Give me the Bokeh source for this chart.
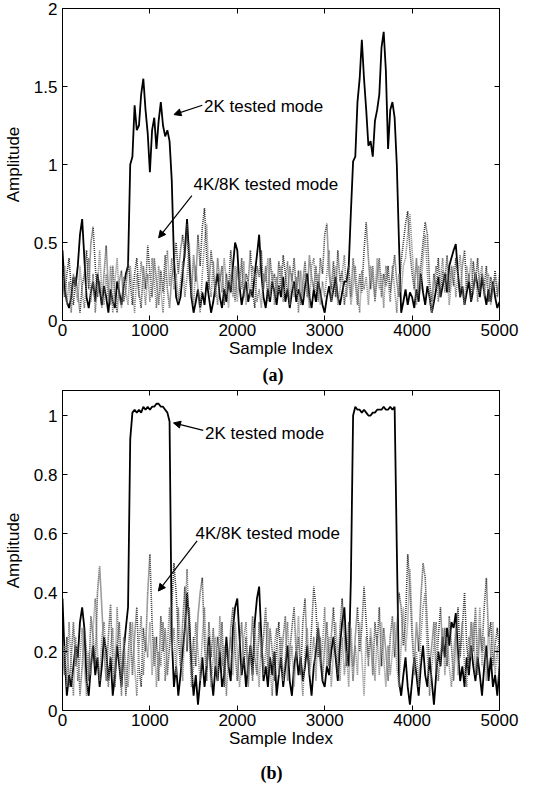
from bokeh.plotting import figure
from bokeh.models import Range1d, LinearAxis, FixedTicker, Arrow, NormalHead, Label, Title
from bokeh.layouts import column
from bokeh.embed import file_html
from bokeh.resources import INLINE

# ---------------- data ----------------
SAMPLE_IDX = list(range(0, 5001, 25))

X_TICKS = [0, 1000, 2000, 3000, 4000, 5000]
X_TICK_LABELS = ["0", "1000", "2000", "3000", "4000", "5000"]
A_Y_TICKS = [0, 0.5, 1, 1.5, 2]
A_Y_TICK_LABELS = ["0", "0.5", "1", "1.5", "2"]
B_Y_TICKS = [0, 0.2, 0.4, 0.6, 0.8, 1]
B_Y_TICK_LABELS = ["0", "0.2", "0.4", "0.6", "0.8", "1"]

# panel (a)
A_2K = [
    0.45, 0.20, 0.12, 0.08, 0.15, 0.28, 0.22, 0.35, 0.55, 0.65,
    0.40, 0.15, 0.08, 0.18, 0.25, 0.12, 0.30, 0.20, 0.10, 0.22,
    0.15, 0.05, 0.20, 0.12, 0.08, 0.25, 0.18, 0.10, 0.22, 0.30,
    0.35, 1.00, 1.05, 1.38, 1.22, 1.25, 1.45, 1.55, 1.35, 1.20,
    0.95, 1.22, 1.30, 1.10, 1.28, 1.40, 1.25, 1.18, 1.22, 1.15,
    0.90, 0.40, 0.15, 0.10, 0.15, 0.30, 0.45, 0.65, 0.40, 0.15,
    0.05, 0.12, 0.20, 0.08, 0.18, 0.10, 0.25, 0.15, 0.05, 0.12,
    0.22, 0.30, 0.15, 0.08, 0.20, 0.12, 0.25, 0.18, 0.35, 0.50,
    0.45, 0.22, 0.10, 0.18, 0.25, 0.12, 0.20, 0.15, 0.30, 0.42,
    0.55, 0.30, 0.15, 0.08, 0.20, 0.12, 0.25, 0.18, 0.10, 0.22,
    0.15, 0.28, 0.12, 0.20, 0.08, 0.18, 0.25, 0.12, 0.20, 0.15,
    0.10, 0.22, 0.30, 0.15, 0.08, 0.20, 0.12, 0.25, 0.18, 0.10,
    0.05, 0.15, 0.22, 0.12, 0.20, 0.28, 0.15, 0.10, 0.18, 0.25,
    0.25, 0.35, 0.70, 1.02, 1.05, 1.40, 1.55, 1.80, 1.55, 1.35,
    1.12, 1.15, 1.05, 1.28, 1.35, 1.45, 1.75, 1.85, 1.60, 1.10,
    1.35, 1.40, 1.30, 1.00, 0.50, 0.05, 0.12, 0.20, 0.10, 0.18,
    0.15, 0.08, 0.20, 0.12, 0.30, 0.18, 0.10, 0.22, 0.15, 0.05,
    0.12, 0.20, 0.28, 0.15, 0.22, 0.30, 0.18, 0.35, 0.40, 0.45,
    0.49, 0.30, 0.15, 0.22, 0.10, 0.18, 0.25, 0.12, 0.20, 0.30,
    0.22, 0.15, 0.28, 0.18, 0.10, 0.20, 0.12, 0.25, 0.15, 0.08,
    0.12,
]
A_4K = [
    0.25, 0.15, 0.30, 0.40, 0.20, 0.10, 0.28, 0.18, 0.05, 0.22,
    0.30, 0.45, 0.20, 0.50, 0.60, 0.35, 0.15, 0.25, 0.08, 0.30,
    0.48, 0.20, 0.10, 0.35, 0.15, 0.05, 0.25, 0.32, 0.12, 0.20,
    0.38, 0.25, 0.10, 0.30, 0.40, 0.18, 0.08, 0.35, 0.20, 0.48,
    0.30, 0.15, 0.40, 0.25, 0.10, 0.32, 0.18, 0.42, 0.20, 0.08,
    0.28, 0.35, 0.50, 0.30, 0.45, 0.55, 0.40, 0.62, 0.30, 0.15,
    0.42, 0.25, 0.55, 0.35, 0.60, 0.72, 0.40, 0.20, 0.45, 0.30,
    0.15, 0.40, 0.25, 0.35, 0.10, 0.30, 0.20, 0.45, 0.28, 0.12,
    0.35, 0.20, 0.40, 0.15, 0.30, 0.25, 0.45, 0.18, 0.08, 0.35,
    0.28, 0.45, 0.20, 0.35, 0.12, 0.40, 0.25, 0.30, 0.15, 0.38,
    0.20, 0.42, 0.30, 0.15, 0.35, 0.25, 0.40, 0.18, 0.32, 0.10,
    0.25, 0.38, 0.15, 0.42, 0.28, 0.20, 0.35, 0.12, 0.40, 0.30,
    0.55, 0.62, 0.30, 0.20, 0.38, 0.15, 0.45, 0.25, 0.32, 0.10,
    0.22, 0.35, 0.15, 0.40, 0.25, 0.10, 0.30, 0.18, 0.45, 0.63,
    0.40, 0.20, 0.35, 0.12, 0.28, 0.40, 0.15, 0.30, 0.22, 0.35,
    0.18, 0.30, 0.42, 0.25, 0.15, 0.38, 0.50, 0.62, 0.70, 0.45,
    0.30, 0.20, 0.40, 0.15, 0.35, 0.50, 0.63, 0.55, 0.25, 0.12,
    0.30, 0.20, 0.40, 0.15, 0.32, 0.25, 0.42, 0.18, 0.35, 0.22,
    0.40, 0.28, 0.15, 0.35, 0.45, 0.20, 0.30, 0.12, 0.38, 0.25,
    0.40, 0.18, 0.30, 0.22, 0.35, 0.12, 0.28, 0.20, 0.32, 0.15,
    0.25,
]
A_8K = [
    0.15, 0.35, 0.10, 0.25, 0.05, 0.30, 0.20, 0.12, 0.35, 0.18,
    0.08, 0.25, 0.40, 0.12, 0.30, 0.05, 0.22, 0.45, 0.18, 0.10,
    0.30, 0.12, 0.35, 0.05, 0.25, 0.40, 0.15, 0.08, 0.28, 0.18,
    0.10, 0.35, 0.22, 0.05, 0.30, 0.15, 0.38, 0.25, 0.10, 0.30,
    0.12, 0.40, 0.25, 0.08, 0.35, 0.20, 0.05, 0.30, 0.45, 0.22,
    0.40, 0.20, 0.30, 0.12, 0.25, 0.38, 0.15, 0.28, 0.50, 0.20,
    0.10, 0.35, 0.20, 0.05, 0.30, 0.50, 0.62, 0.25, 0.15, 0.38,
    0.22, 0.10, 0.30, 0.18, 0.40, 0.25, 0.08, 0.30, 0.15, 0.35,
    0.12, 0.30, 0.20, 0.38, 0.10, 0.25, 0.15, 0.35, 0.28, 0.12,
    0.20, 0.08, 0.30, 0.25, 0.40, 0.15, 0.32, 0.10, 0.28, 0.18,
    0.35, 0.12, 0.25, 0.38, 0.10, 0.30, 0.15, 0.28, 0.05, 0.32,
    0.15, 0.30, 0.22, 0.08, 0.35, 0.40, 0.18, 0.30, 0.10, 0.25,
    0.15, 0.30, 0.45, 0.12, 0.25, 0.35, 0.10, 0.20, 0.30, 0.42,
    0.15, 0.28, 0.10, 0.22, 0.35, 0.18, 0.05, 0.32, 0.20, 0.28,
    0.10, 0.35, 0.25, 0.15, 0.40, 0.20, 0.30, 0.08, 0.35, 0.25,
    0.12, 0.35, 0.20, 0.05, 0.30, 0.18, 0.35, 0.40, 0.55, 0.68,
    0.45, 0.25, 0.10, 0.35, 0.20, 0.40, 0.55, 0.30, 0.15, 0.05,
    0.20, 0.35, 0.12, 0.28, 0.40, 0.18, 0.30, 0.10, 0.25, 0.35,
    0.15, 0.30, 0.42, 0.20, 0.10, 0.35, 0.25, 0.40, 0.18, 0.30,
    0.12, 0.28, 0.35, 0.15, 0.25, 0.30, 0.10, 0.22, 0.28, 0.18,
    0.30,
]

# panel (b)
B_2K = [
    0.38, 0.18, 0.05, 0.12, 0.08, 0.15, 0.22, 0.18, 0.30, 0.35,
    0.28, 0.10, 0.05, 0.15, 0.22, 0.12, 0.18, 0.08, 0.15, 0.25,
    0.20, 0.10, 0.18, 0.05, 0.12, 0.22, 0.15, 0.08, 0.20, 0.28,
    0.35, 0.92, 1.01, 1.02, 1.01, 1.02, 1.01, 1.03, 1.02, 1.03,
    1.02, 1.03, 1.03, 1.04, 1.04, 1.03, 1.03, 1.02, 1.01, 0.98,
    0.25, 0.08, 0.15, 0.05, 0.12, 0.20, 0.28, 0.40, 0.30, 0.15,
    0.05, 0.12, 0.02, 0.10, 0.18, 0.08, 0.15, 0.25, 0.12, 0.05,
    0.15, 0.10, 0.20, 0.08, 0.12, 0.25, 0.15, 0.10, 0.28, 0.35,
    0.38, 0.25, 0.12, 0.18, 0.08, 0.15, 0.22, 0.12, 0.30, 0.38,
    0.42, 0.25, 0.10, 0.15, 0.08, 0.18, 0.12, 0.20, 0.05, 0.12,
    0.18, 0.08, 0.15, 0.22, 0.10, 0.05, 0.15, 0.20, 0.12, 0.18,
    0.10, 0.15, 0.22, 0.12, 0.05, 0.15, 0.20, 0.28, 0.18, 0.10,
    0.08, 0.15, 0.12, 0.20, 0.25, 0.18, 0.10, 0.22, 0.30, 0.35,
    0.20, 0.15, 0.45, 1.00, 1.03, 1.02, 1.02, 1.01, 1.02, 1.01,
    1.00, 1.00, 1.01, 1.01, 1.02, 1.02, 1.02, 1.03, 1.02, 1.02,
    1.03, 1.02, 1.03, 0.55, 0.10, 0.05, 0.12, 0.18, 0.08, 0.02,
    0.10, 0.18, 0.12, 0.05, 0.15, 0.22, 0.12, 0.08, 0.18, 0.10,
    0.02, 0.12, 0.20, 0.15, 0.25, 0.18, 0.28, 0.22, 0.30, 0.28,
    0.33, 0.20, 0.10, 0.15, 0.08, 0.18, 0.12, 0.22, 0.15, 0.10,
    0.18, 0.12, 0.05, 0.15, 0.22, 0.10, 0.18, 0.08, 0.12, 0.05,
    0.15,
]
B_4K = [
    0.20, 0.12, 0.25, 0.08, 0.18, 0.30, 0.15, 0.22, 0.05, 0.15,
    0.28, 0.20, 0.10, 0.32, 0.25, 0.15, 0.40, 0.49, 0.35, 0.20,
    0.10, 0.25, 0.36, 0.15, 0.08, 0.22, 0.30, 0.12, 0.20, 0.05,
    0.18, 0.30, 0.12, 0.25, 0.35, 0.15, 0.08, 0.28, 0.20, 0.40,
    0.53, 0.30, 0.15, 0.25, 0.10, 0.32, 0.20, 0.28, 0.12, 0.22,
    0.35, 0.50, 0.40, 0.25, 0.15, 0.30, 0.42, 0.20, 0.35, 0.12,
    0.25, 0.15, 0.32, 0.40, 0.45, 0.22, 0.10, 0.30, 0.18, 0.28,
    0.12, 0.25, 0.18, 0.30, 0.08, 0.22, 0.15, 0.28, 0.35, 0.20,
    0.10, 0.22, 0.30, 0.15, 0.25, 0.08, 0.20, 0.32, 0.18, 0.12,
    0.30, 0.18, 0.25, 0.35, 0.12, 0.28, 0.20, 0.10, 0.22, 0.30,
    0.15, 0.25, 0.32, 0.10, 0.20, 0.28, 0.35, 0.18, 0.25, 0.12,
    0.30, 0.38, 0.20, 0.15, 0.28, 0.42, 0.35, 0.18, 0.25, 0.10,
    0.22, 0.30, 0.15, 0.25, 0.35, 0.20, 0.12, 0.28, 0.38, 0.25,
    0.15, 0.30, 0.22, 0.10, 0.25, 0.35, 0.20, 0.28, 0.42, 0.30,
    0.18, 0.25, 0.12, 0.30, 0.22, 0.35, 0.15, 0.28, 0.20, 0.10,
    0.25, 0.32, 0.18, 0.28, 0.40, 0.35, 0.22, 0.30, 0.53, 0.42,
    0.25, 0.15, 0.30, 0.20, 0.38, 0.50, 0.45, 0.28, 0.15, 0.22,
    0.30, 0.12, 0.25, 0.35, 0.20, 0.28, 0.15, 0.32, 0.22, 0.10,
    0.25, 0.35, 0.18, 0.28, 0.40, 0.22, 0.15, 0.30, 0.20, 0.35,
    0.12, 0.28, 0.20, 0.35, 0.45, 0.25, 0.30, 0.15, 0.22, 0.28,
    0.20,
]
B_8K = [
    0.12, 0.22, 0.08, 0.30, 0.15, 0.05, 0.25, 0.10, 0.18, 0.28,
    0.15, 0.05, 0.20, 0.12, 0.28, 0.38, 0.20, 0.10, 0.25, 0.30,
    0.18, 0.08, 0.22, 0.28, 0.12, 0.35, 0.18, 0.05, 0.25, 0.15,
    0.08, 0.20, 0.30, 0.15, 0.05, 0.22, 0.32, 0.12, 0.25, 0.18,
    0.30, 0.12, 0.25, 0.08, 0.20, 0.15, 0.30, 0.10, 0.22, 0.35,
    0.20, 0.28, 0.12, 0.35, 0.22, 0.10, 0.30, 0.48, 0.25, 0.08,
    0.15, 0.30, 0.20, 0.10, 0.25, 0.35, 0.15, 0.22, 0.08, 0.18,
    0.25, 0.10, 0.32, 0.15, 0.22, 0.05, 0.18, 0.25, 0.12, 0.30,
    0.20, 0.08, 0.15, 0.25, 0.30, 0.12, 0.22, 0.10, 0.28, 0.18,
    0.08, 0.25, 0.12, 0.20, 0.30, 0.15, 0.05, 0.22, 0.28, 0.12,
    0.25, 0.10, 0.18, 0.30, 0.15, 0.22, 0.08, 0.20, 0.32, 0.15,
    0.05, 0.20, 0.28, 0.12, 0.18, 0.25, 0.10, 0.30, 0.15, 0.22,
    0.35, 0.15, 0.25, 0.08, 0.20, 0.30, 0.18, 0.10, 0.25, 0.12,
    0.20, 0.08, 0.28, 0.15, 0.22, 0.12, 0.30, 0.18, 0.05, 0.25,
    0.15, 0.28, 0.20, 0.10, 0.25, 0.12, 0.30, 0.18, 0.08, 0.22,
    0.12, 0.20, 0.30, 0.15, 0.08, 0.22, 0.35, 0.20, 0.30, 0.48,
    0.30, 0.12, 0.20, 0.08, 0.25, 0.35, 0.40, 0.18, 0.05, 0.15,
    0.22, 0.30, 0.10, 0.18, 0.28, 0.12, 0.25, 0.15, 0.08, 0.20,
    0.28, 0.12, 0.22, 0.30, 0.15, 0.08, 0.25, 0.18, 0.30, 0.12,
    0.20, 0.35, 0.15, 0.25, 0.10, 0.28, 0.18, 0.30, 0.12, 0.22,
    0.10,
]

for arr in (A_2K, A_4K, A_8K, B_2K, B_4K, B_8K):
    assert len(arr) == len(SAMPLE_IDX), len(arr)

FONT = "Liberation Sans"
FS = "17px"


def style_axis(ax, ticks, labels, show_labels=True):
    ax.ticker = FixedTicker(ticks=ticks)
    if show_labels:
        ax.major_label_overrides = {t: l for t, l in zip(ticks, labels)}
    else:
        ax.major_label_overrides = {t: "" for t in ticks}
    ax.minor_tick_line_color = None
    ax.major_tick_in = 5
    ax.major_tick_out = 0
    ax.axis_line_color = "black"
    ax.major_tick_line_color = "black"
    ax.major_label_text_font = FONT
    ax.major_label_text_font_size = FS
    ax.major_label_text_color = "black"
    ax.axis_label_text_font = FONT
    ax.axis_label_text_font_size = FS
    ax.axis_label_text_font_style = "normal"
    ax.axis_label_text_color = "black"


def make_panel(y2k, y4k, y8k, y_max, y_ticks, y_labels, height, b_top, b_bottom,
               b_left, b_right, tag, tag_offset, tag_standoff, notes):
    p = figure(width=530, height=height, output_backend="svg", toolbar_location=None,
               x_range=Range1d(0, 5000), y_range=Range1d(0, y_max),
               min_border_top=b_top, min_border_bottom=b_bottom,
               min_border_left=b_left, min_border_right=b_right)
    p.grid.visible = False
    p.outline_line_color = "black"
    p.outline_line_width = 1
    p.background_fill_color = "white"
    p.border_fill_color = "white"

    p.line(SAMPLE_IDX, y2k, line_color="black", line_width=1.8)
    p.line(SAMPLE_IDX, y4k, line_color="#3a3a3a", line_width=1.6, line_dash="1 1")
    p.line(SAMPLE_IDX, y8k, line_color="#7a7a7a", line_width=1.6, line_dash="1 1")

    style_axis(p.xaxis[0], X_TICKS, X_TICK_LABELS)
    p.xaxis[0].axis_label = "Sample Index"
    p.xaxis[0].major_label_standoff = 3
    p.xaxis[0].axis_label_standoff = 0
    style_axis(p.yaxis[0], y_ticks, y_labels)
    p.yaxis[0].axis_label = "Amplitude"
    p.yaxis[0].major_label_standoff = 5
    p.yaxis[0].axis_label_standoff = 8

    top_ax = LinearAxis()
    style_axis(top_ax, X_TICKS, X_TICK_LABELS, show_labels=False)
    top_ax.major_label_standoff = 0
    p.add_layout(top_ax, "above")
    right_ax = LinearAxis()
    style_axis(right_ax, y_ticks, y_labels, show_labels=False)
    right_ax.major_label_standoff = 0
    p.add_layout(right_ax, "right")

    for (tx, ty, hx, hy, lx, ly, text) in notes:
        p.add_layout(Arrow(end=NormalHead(size=7, fill_color="black", line_color="black",
                                          line_width=1),
                           x_start=tx, y_start=ty, x_end=hx, y_end=hy,
                           line_color="black", line_width=1.2))
        p.add_layout(Label(x=lx, y=ly, text=text, text_font=FONT, text_font_size=FS,
                           text_baseline="middle", text_align="left", text_color="black"))

    t = Title(text=tag, align="left", offset=tag_offset, standoff=tag_standoff,
              text_font="Liberation Serif", text_font_style="bold",
              text_font_size="18px", text_color="black")
    p.add_layout(t, "below")
    return p


pa = make_panel(A_2K, A_4K, A_8K, 2, A_Y_TICKS, A_Y_TICK_LABELS,
                height=386, b_top=8, b_bottom=66, b_left=53, b_right=28,
                tag="(a)", tag_offset=200, tag_standoff=4,
                notes=[(1600, 1.38, 1275, 1.32, 1620, 1.37, "2K tested mode"),
                       (1480, 0.80, 1100, 0.53, 1500, 0.87, "4K/8K tested mode")])
pb = make_panel(B_2K, B_4K, B_8K, 1.085, B_Y_TICKS, B_Y_TICK_LABELS,
                height=406, b_top=4, b_bottom=77, b_left=55, b_right=31,
                tag="(b)", tag_offset=198, tag_standoff=20,
                notes=[(1610, 0.95, 1270, 0.975, 1631, 0.94, "2K tested mode"),
                       (1540, 0.575, 1097, 0.405, 1521, 0.60, "4K/8K tested mode")])

layout = column(pa, pb, spacing=0)
open("out.html", "w").write(file_html(layout, INLINE))
